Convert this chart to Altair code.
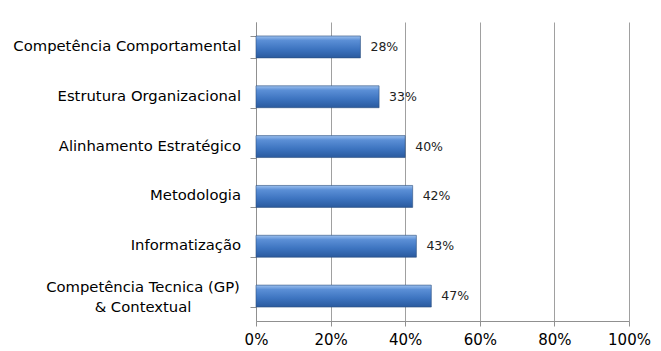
import altair as alt
import pandas as pd

categories = [
    "Competência Comportamental",
    "Estrutura Organizacional",
    "Alinhamento Estratégico",
    "Metodologia",
    "Informatização",
    "Competência Tecnica (GP)|& Contextual",
]
values = [0.28, 0.33, 0.40, 0.42, 0.43, 0.47]
x_ticks = [0, 0.2, 0.4, 0.6, 0.8, 1.0]

df = pd.DataFrame({"cat": categories, "val": values})
FONT = "DejaVu Sans"
CAT_SIZE = 14.8

y_enc = alt.Y(
    "cat:N",
    sort=categories,
    title=None,
    scale=alt.Scale(paddingInner=0.56, paddingOuter=0.28),
    axis=alt.Axis(
        labels=False,
        tickBand="extent",
        tickSize=6,
        tickColor="#909090",
        domainColor="#909090",
        grid=False,
    ),
)
x_enc = alt.X(
    "val:Q",
    title=None,
    scale=alt.Scale(domain=[0, 1], nice=False),
    axis=alt.Axis(
        values=x_ticks,
        format=".0%",
        labelFont=FONT,
        labelFontSize=15,
        labelColor="#000000",
        labelPadding=6,
        labelFlush=False,
        labelOverlap=False,
        tickSize=5,
        tickColor="#909090",
        domainColor="#909090",
        gridColor="#a0a0a0",
        grid=True,
    ),
)

grad = alt.Gradient(
    gradient="linear",
    x1=0, x2=0, y1=0, y2=1,
    stops=[
        alt.GradientStop(color="#9cc0ee", offset=0),
        alt.GradientStop(color="#5b8fd6", offset=0.2),
        alt.GradientStop(color="#3d74c0", offset=0.6),
        alt.GradientStop(color="#2a5a9e", offset=1),
    ],
)

bars = alt.Chart(df).mark_bar(
    color=grad, stroke="#2b4f7e", strokeWidth=0.6
).encode(y=y_enc, x=x_enc)

labels = alt.Chart(df).mark_text(
    align="left", dx=10, font=FONT, fontSize=12.5, color="#222222"
).encode(
    y=alt.Y("cat:N", sort=categories),
    x="val:Q",
    text=alt.Text("val:Q", format=".0%"),
)

cat_single = alt.Chart(df).transform_filter(
    "indexof(datum.cat, '|') < 0"
).mark_text(
    align="right", baseline="middle", dx=-15, font=FONT, fontSize=CAT_SIZE, color="#000000"
).encode(
    y=alt.Y("cat:N", sort=categories),
    x=alt.value(0),
    text="cat:N",
)

cat_multi = alt.Chart(df).transform_filter(
    "indexof(datum.cat, '|') >= 0"
).mark_text(
    align="center", baseline="middle", dx=-113, dy=-8, lineBreak="|", lineHeight=20,
    font=FONT, fontSize=CAT_SIZE, color="#000000"
).encode(
    y=alt.Y("cat:N", sort=categories),
    x=alt.value(0),
    text="cat:N",
)

chart = (
    alt.layer(bars, labels, cat_single, cat_multi)
    .properties(
        width=373,
        height=299,
        padding={"left": 256, "top": 22, "right": 32, "bottom": 30},
        autosize=alt.AutoSizeParams(type="none"),
    )
    .configure_view(stroke=None)
)

chart.save("out.html", embed_options={"renderer": "svg", "actions": False})
